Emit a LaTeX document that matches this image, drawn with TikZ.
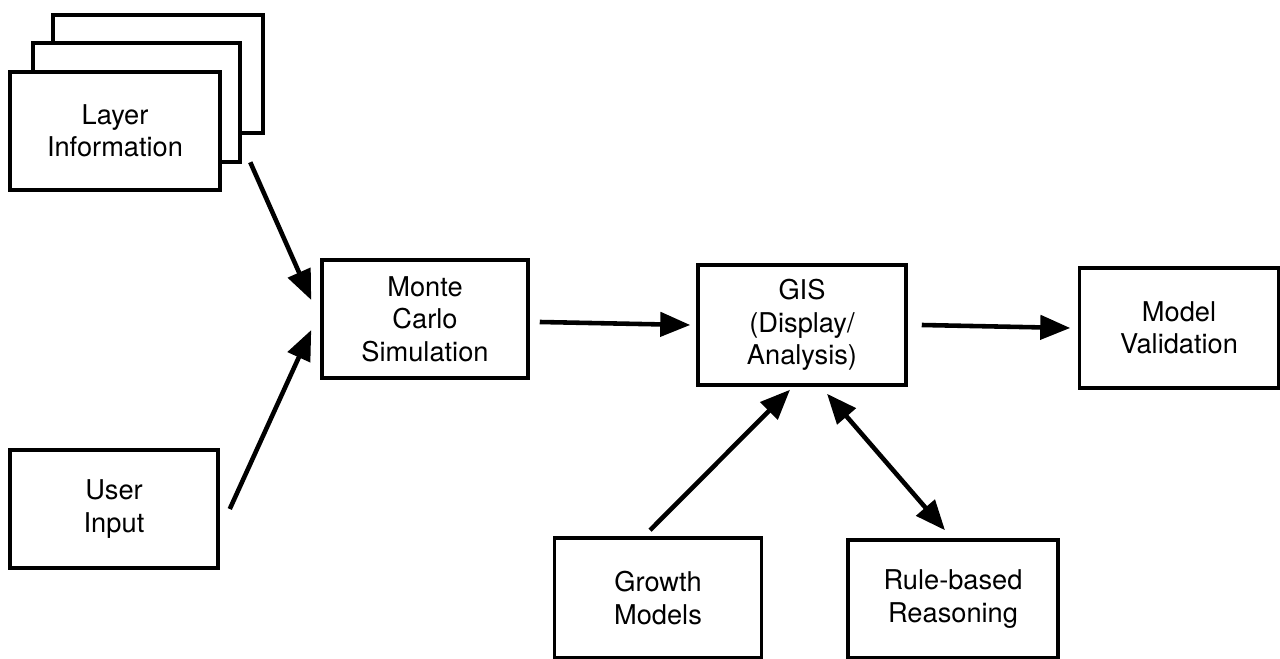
\documentclass[tikz,border=0pt]{standalone}
\usepackage{fontspec}
\setmainfont{TeX Gyre Heros}
\usepackage{xcolor}
\usetikzlibrary{arrows.meta,calc}
\tikzstyle{box} = [draw,line width=2pt,fill=white,align=center,inner sep=0pt,font=\fontsize{15.5}{18.5}\selectfont]
\tikzstyle{arrow} = [line width=2.6pt,-{Triangle[length=0.6cm,width=0.48cm]}]
\tikzstyle{darrow} = [line width=2.6pt,{Triangle[length=0.6cm,width=0.48cm]}-{Triangle[length=0.6cm,width=0.48cm]}]

\begin{document}
\begin{tikzpicture}
          \useasboundingbox (0,0) rectangle (25.6,13.16);
          % layer stack
          \node[box,minimum width=4.2cm,minimum height=2.36cm] (layerC) at (3.16,11.68) {};
          \node[box,minimum width=4.14cm,minimum height=2.38cm] (layerB) at (2.73,11.11) {};
          \node[box,minimum width=4.2cm,minimum height=2.36cm] (layer) at (2.30,10.54) {Layer\\Information};
          \node[box,minimum width=4.16cm,minimum height=2.36cm] (user) at (2.28,2.98) {User\\Input};

          % main chain
          \node[box,minimum width=4.12cm,minimum height=2.36cm] (mc) at (8.50,6.78) {Monte\\Carlo\\Simulation};
          \node[box,minimum width=4.16cm,minimum height=2.40cm] (gis) at (16.04,6.66) {GIS\\(Display/\\Analysis)};
          \node[box,minimum width=3.98cm,minimum height=2.40cm] (mv) at (23.58,6.60) {Model\\Validation};

          % bottom row
          \node[box,minimum width=4.14cm,minimum height=2.40cm] (growth) at (13.16,1.20) {Growth\\Models};
          \node[box,minimum width=4.20cm,minimum height=2.36cm] (rule) at (19.06,1.18) {Rule-based\\Reasoning};

          % arrows
          \draw[arrow] ($(layerB.south east)+(0.17,0.03)$) -- ($(mc.west)+(-0.18,0.38)$);
          \draw[arrow] ($(user.east)+(0.2,0)$) -- ($(mc.west)+(-0.18,-0.22)$);
          \draw[arrow] ($(mc.east)+(0.2,-0.06)$) -- ($(gis.west)+(-0.12,0)$);
          \draw[arrow] ($(gis.east)+(0.28,0)$) -- ($(mv.west)+(-0.15,0)$);
          \draw[arrow] ($(growth.north)+(-0.16,0.12)$) -- ($(gis.south)+(-0.24,-0.06)$);
          \draw[darrow] ($(gis.south)+(0.5,-0.14)$) -- ($(rule.north)+(-0.16,0.16)$);
\end{tikzpicture}
\end{document}
